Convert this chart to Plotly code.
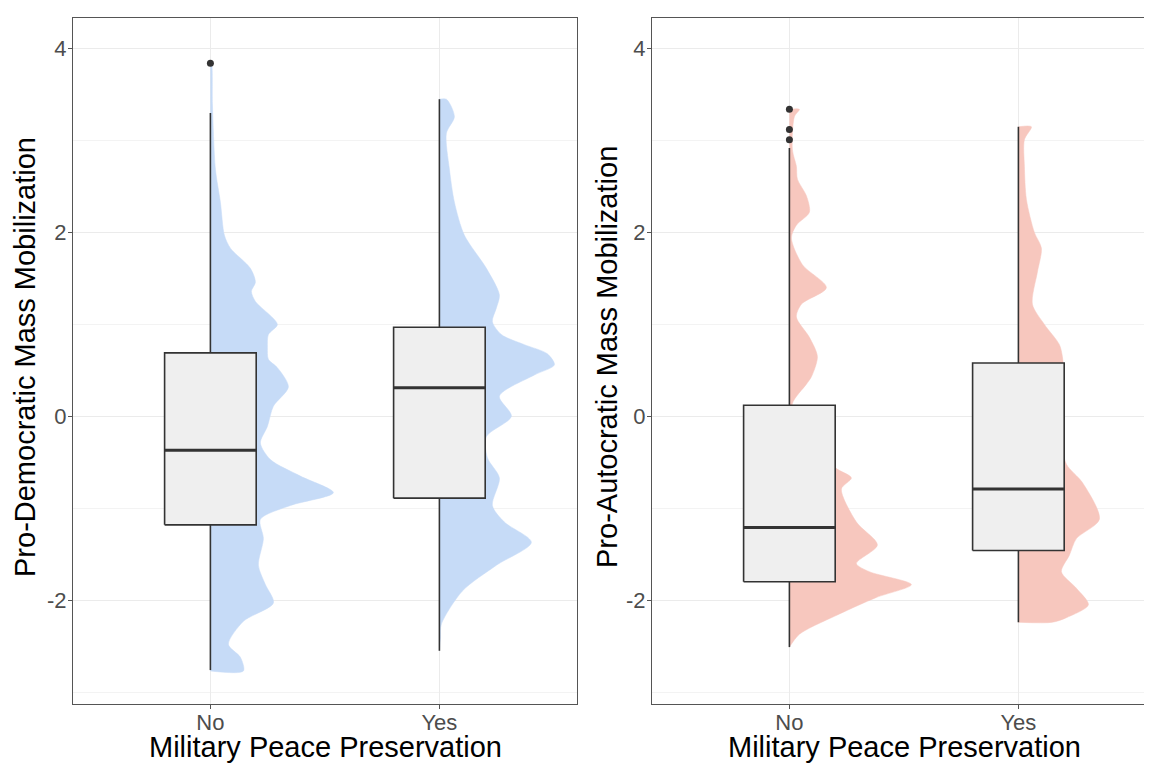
import plotly.graph_objects as go

# ---------------- data ----------------
categories = ["No", "Yes"]
cat_pos = [1, 2]

panels = ["Pro-Democratic Mass Mobilization", "Pro-Autocratic Mass Mobilization"]
x_title = "Military Peace Preservation"

# box statistics per panel, per category (No, Yes)
dem_q1 = [-1.18, -0.89]
dem_median = [-0.37, 0.31]
dem_q3 = [0.69, 0.97]
dem_low = [-2.76, -2.55]
dem_high = [3.30, 3.45]
dem_outliers = [[3.84], []]

aut_q1 = [-1.80, -1.46]
aut_median = [-1.21, -0.79]
aut_q3 = [0.12, 0.58]
aut_low = [-2.51, -2.24]
aut_high = [2.92, 3.15]
aut_outliers = [[3.34, 3.12, 3.01], []]

# half-violin density profiles (value level, relative density)
dem_no_lvl = [3.84, 3.40, 2.69, 2.33, 1.97, 1.83, 1.61, 1.46, 1.36, 1.25, 1.00, 0.89, 0.75,
              0.62, 0.53, 0.32, 0.11, -0.11, -0.29, -0.47, -0.65, -0.83, -0.97, -1.12,
              -1.33, -1.62, -1.83, -2.03, -2.23, -2.48, -2.62, -2.77]
dem_no_den = [1, 2, 5, 10, 14, 20, 40, 45, 41, 45, 67, 58, 57, 58, 67, 78, 63, 57, 50, 60,
              90, 123, 80, 50, 53, 48, 55, 63, 33, 18, 30, 33]

dem_yes_lvl = [3.45, 3.26, 3.08, 2.69, 2.33, 1.97, 1.61, 1.32, 1.18, 1.03, 0.89, 0.78, 0.68,
               0.56, 0.45, 0.22, 0.00, -0.22, -0.45, -0.67, -0.97, -1.15, -1.37, -1.62,
               -1.90, -2.26, -2.41, -2.55]
dem_yes_den = [7, 15, 7, 10, 15, 25, 47, 60, 57, 53, 62, 85, 108, 115, 95, 60, 72, 47, 48,
               60, 53, 65, 92, 57, 23, 2, 1, 0]

aut_no_lvl = [3.34, 3.26, 2.90, 2.72, 2.58, 2.40, 2.22, 2.08, 1.94, 1.65, 1.40, 1.22, 1.08,
              0.86, 0.65, 0.43, 0.35, 0.14, -0.10, -0.30, -0.56, -0.67, -0.79, -1.15,
              -1.40, -1.60, -1.69, -1.83, -1.97, -2.15, -2.37, -2.51]
aut_no_den = [10, 5, 3, 7, 8, 17, 20, 7, 2, 13, 37, 12, 7, 20, 28, 22, 17, 3, 5, 25, 46,
              62, 52, 67, 88, 67, 80, 122, 87, 50, 10, 0]

aut_yes_lvl = [3.15, 3.01, 2.72, 2.36, 2.00, 1.83, 1.57, 1.22, 1.00, 0.78, 0.65, 0.50, 0.20,
               -0.20, -0.52, -0.72, -1.12, -1.33, -1.51, -1.69, -1.87, -2.05, -2.19, -2.24]
aut_yes_den = [13, 6, 6, 8, 16, 23, 19, 14, 26, 41, 44, 45, 42, 42, 48, 64, 81, 58, 51, 43,
               58, 70, 48, 34]

y_ticks = [-2, 0, 2, 4]
y_minor = [-3, -1, 1, 3]

# ---------------- styling ----------------
OFF = 8                      # browser default body margin
W, H = 1152 - OFF, 764 - OFF
PX_PER_X = 229.0
PX_PER_Y = 93.0
DEN_SCALE = 1 / PX_PER_X
BOX_W = 0.40
BLUE = "rgb(198,219,247)"
SALMON = "rgb(247,199,190)"
BOX_FILL = "rgb(239,239,239)"
LINE = "#333333"
FRAME = "#555555"
GRID = "#EBEBEB"
GRID_MINOR = "#F3F3F3"
FONT = "Liberation Sans, Arial, sans-serif"

fig = go.Figure()

panel_data = [
    dict(xa="x", ya="y", q1=dem_q1, med=dem_median, q3=dem_q3, low=dem_low, high=dem_high,
         out=dem_outliers, vio=[(dem_no_lvl, dem_no_den), (dem_yes_lvl, dem_yes_den)], color=BLUE),
    dict(xa="x2", ya="y2", q1=aut_q1, med=aut_median, q3=aut_q3, low=aut_low, high=aut_high,
         out=aut_outliers, vio=[(aut_no_lvl, aut_no_den), (aut_yes_lvl, aut_yes_den)], color=SALMON),
]

for p in panel_data:
    # violins first (below boxes)
    for c, (lvl, den) in zip(cat_pos, p["vio"]):
        xs = [c] + [c + d * DEN_SCALE for d in den] + [c]
        ys = [lvl[0]] + list(lvl) + [lvl[-1]]
        fig.add_trace(go.Scatter(x=xs, y=ys, mode="lines", fill="toself", fillcolor=p["color"],
                                 line=dict(color=p["color"], width=0.5, shape="spline", smoothing=0.8),
                                 xaxis=p["xa"], yaxis=p["ya"], hoverinfo="skip", showlegend=False))
    for i, c in enumerate(cat_pos):
        # whiskers
        fig.add_trace(go.Scatter(x=[c, c, None, c, c],
                                 y=[p["q3"][i], p["high"][i], None, p["q1"][i], p["low"][i]],
                                 mode="lines", line=dict(color=LINE, width=1.6),
                                 xaxis=p["xa"], yaxis=p["ya"], hoverinfo="skip", showlegend=False))
        # box
        x0, x1 = c - BOX_W / 2, c + BOX_W / 2
        fig.add_trace(go.Scatter(x=[x0, x1, x1, x0, x0],
                                 y=[p["q1"][i], p["q1"][i], p["q3"][i], p["q3"][i], p["q1"][i]],
                                 mode="lines", fill="toself", fillcolor=BOX_FILL,
                                 line=dict(color=LINE, width=1.6),
                                 xaxis=p["xa"], yaxis=p["ya"], hoverinfo="skip", showlegend=False))
        # median
        fig.add_trace(go.Scatter(x=[x0, x1], y=[p["med"][i], p["med"][i]], mode="lines",
                                 line=dict(color=LINE, width=3),
                                 xaxis=p["xa"], yaxis=p["ya"], hoverinfo="skip", showlegend=False))
        # outliers
        if p["out"][i]:
            fig.add_trace(go.Scatter(x=[c] * len(p["out"][i]), y=p["out"][i], mode="markers",
                                     marker=dict(color=LINE, size=7),
                                     xaxis=p["xa"], yaxis=p["ya"], hoverinfo="skip", showlegend=False))

# target pixel geometry (in the 1152x764 window)
top_px, bot_px, zero_px = 10, 704, 413
y_dom = [(764 - bot_px) / H, (764 - top_px - OFF) / H]
y_rng = [(zero_px - bot_px) / PX_PER_Y, (zero_px - top_px) / PX_PER_Y]

tickfont = dict(size=22, color="#4D4D4D", family=FONT)
common_x = dict(tickvals=cat_pos, ticktext=categories, showgrid=True, gridcolor=GRID, gridwidth=1,
                zeroline=False, showline=True, linecolor=FRAME, linewidth=1, mirror=True,
                ticks="outside", ticklen=4, tickcolor=FRAME, tickfont=tickfont,
                ticklabelstandoff=-5)
common_y = dict(range=y_rng, domain=y_dom, tickvals=y_ticks, ticktext=[str(v) for v in y_ticks],
                showgrid=True, gridcolor=GRID, gridwidth=1, zeroline=False,
                showline=True, linecolor=FRAME, linewidth=1,
                ticks="outside", ticklen=4, tickcolor=FRAME,
                minor=dict(tickvals=y_minor, showgrid=True, gridcolor=GRID_MINOR, ticks=""),
                tickfont=tickfont, ticklabelstandoff=-3)

L1, R1, L2 = 73 - OFF, 577 - OFF, 652 - OFF
fig.update_layout(
    width=W, height=H, autosize=False,
    margin=dict(l=0, r=0, t=0, b=0),
    plot_bgcolor="white", paper_bgcolor="white",
    showlegend=False,
    xaxis=dict(domain=[L1 / W, R1 / W], range=[0.4, 0.4 + (R1 - L1) / PX_PER_X], anchor="y", **common_x),
    yaxis=dict(anchor="x", mirror=True, **common_y),
    xaxis2=dict(domain=[L2 / W, 1.0], range=[0.4, 0.4 + (W - L2) / PX_PER_X], anchor="y2", **common_x),
    yaxis2=dict(anchor="x2", mirror=False, **common_y),
)

title_font = dict(size=29, color="black", family=FONT)
ann = []
for xc in [325, 904]:
    ann.append(dict(text=x_title, x=(xc - OFF) / W, y=(764 - 747) / H, xref="paper", yref="paper",
                    xanchor="center", yanchor="middle", showarrow=False, font=title_font))
for xc, t in zip([25, 607], panels):
    ann.append(dict(text=t, x=(xc - OFF) / W, y=(764 - 357) / H, xref="paper", yref="paper",
                    xanchor="center", yanchor="middle", textangle=-90, showarrow=False, font=title_font))
fig.update_layout(annotations=ann)

fig.write_html("out.html")
